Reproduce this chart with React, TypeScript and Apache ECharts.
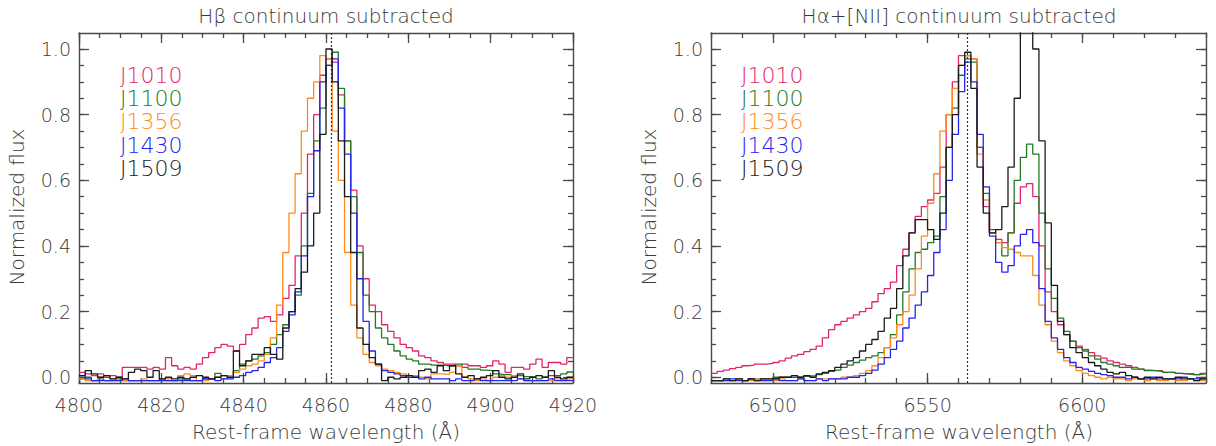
import React, { useEffect, useRef } from "react";
import * as echarts from "echarts";

const seriesNames = ["J1010", "J1100", "J1356", "J1430", "J1509"];
const seriesColors = ["#e6246e", "#237a23", "#ff8c1a", "#2424f0", "#1a1a1a"];

// H-beta panel: bins of 1.5 A starting at 4800
const hbStart = 4800;
const hbStep = 1.5;
const hbJ1010 = [0.015, 0.01, 0.005, 0.01, 0.0, 0.005, 0.0, 0.03, 0.03, 0.03,
  0.03, 0.025, 0.03, 0.025, 0.06, 0.035, 0.025, 0.03, 0.025, 0.04,
  0.06, 0.075, 0.09, 0.1, 0.095, 0.08, 0.1, 0.13, 0.15, 0.18,
  0.185, 0.17, 0.19, 0.24, 0.28, 0.37, 0.5, 0.68, 0.8, 0.92,
  0.97, 0.96, 0.86, 0.72, 0.57, 0.4, 0.3, 0.22, 0.2, 0.16,
  0.14, 0.12, 0.1, 0.09, 0.08, 0.065, 0.06, 0.05, 0.045, 0.04,
  0.04, 0.035, 0.04, 0.035, 0.035, 0.03, 0.035, 0.05, 0.04, 0.015,
  0.03, 0.03, 0.025, 0.04, 0.055, 0.03, 0.045, 0.045, 0.04, 0.06];
const hbJ1100 = [-0.005, 0.0, -0.01, -0.005, -0.01, -0.01, -0.005, -0.01, -0.01, -0.01,
  -0.01, -0.01, -0.01, -0.005, -0.01, -0.01, -0.005, -0.005, -0.01, -0.01,
  -0.005, -0.005, 0.012, 0.005, 0.0, 0.02, 0.04, 0.05, 0.055, 0.065,
  0.075, 0.1, 0.13, 0.16, 0.2, 0.25, 0.4, 0.56, 0.72, 0.82,
  0.95, 0.99, 0.88, 0.72, 0.55, 0.38, 0.25, 0.2, 0.15, 0.12,
  0.1, 0.08, 0.065, 0.055, 0.05, 0.04, 0.04, 0.037, 0.037, 0.035,
  0.035, 0.04, 0.03, 0.025, 0.025, 0.022, 0.02, 0.01, 0.008, 0.008,
  0.005, 0.005, 0.002, 0.0, -0.005, 0.0, 0.005, 0.006, 0.01, 0.016];
const hbJ1356 = [-0.005, -0.01, -0.01, 0.0, 0.005, -0.005, -0.01, -0.01, -0.01, -0.01,
  -0.005, -0.01, -0.01, -0.01, -0.005, -0.01, 0.005, 0.01, 0.005, -0.01,
  -0.01, -0.005, 0.0, -0.005, 0.005, 0.015, 0.025, 0.035, 0.04, 0.05,
  0.07, 0.12, 0.22, 0.38, 0.5, 0.62, 0.75, 0.85, 0.9, 0.98,
  0.97, 0.75, 0.6, 0.38, 0.22, 0.12, 0.07, 0.045, 0.035, 0.025,
  0.02, 0.015, 0.01, 0.005, 0.005, 0.0, -0.005, 0.01, 0.01, 0.008,
  0.015, 0.035, 0.0, -0.005, -0.01, -0.005, -0.01, 0.0, 0.005, 0.0,
  0.005, -0.005, -0.01, -0.01, -0.01, -0.01, -0.01, -0.005, -0.01, -0.005];
const hbJ1430 = [0.005, -0.005, -0.01, -0.01, -0.01, -0.01, -0.01, -0.005, -0.01, -0.01,
  -0.01, -0.01, -0.01, -0.01, -0.01, -0.01, -0.01, -0.01, -0.01, -0.01,
  -0.005, -0.005, -0.01, -0.005, -0.005, 0.0, 0.005, 0.015, 0.02, 0.03,
  0.045, 0.06, 0.09, 0.14, 0.19, 0.26, 0.37, 0.55, 0.69, 0.9,
  0.95, 0.97, 0.82, 0.68, 0.5, 0.3, 0.17, 0.08, 0.04, 0.02,
  0.015, 0.01, 0.005, 0.0, 0.0, -0.005, 0.0, -0.005, -0.005, -0.005,
  -0.01, -0.005, -0.01, -0.01, -0.005, -0.01, -0.01, -0.01, -0.01, -0.01,
  -0.01, -0.005, -0.01, -0.01, -0.01, -0.01, -0.005, -0.01, -0.01, -0.01];
const hbJ1509 = [0.005, 0.02, 0.01, 0.0, 0.005, -0.005, 0.0, -0.005, 0.015, 0.025,
  0.02, 0.0, 0.02, -0.005, 0.0, -0.005, 0.0, -0.005, 0.0, 0.005,
  0.0, -0.005, 0.0, 0.005, 0.0, 0.08, 0.035, 0.05, 0.07, 0.07,
  0.09, 0.07, 0.055, 0.15, 0.2, 0.27, 0.32, 0.4, 0.5, 0.74,
  1.0, 0.9, 0.72, 0.55, 0.38, 0.15, 0.1, 0.06, 0.04, -0.01,
  0.0, -0.005, 0.0, 0.005, 0.0, 0.02, 0.025, 0.015, 0.035, 0.02,
  0.035, 0.01, 0.0, 0.005, -0.005, 0.0, 0.005, 0.02, 0.0, -0.005,
  0.0, 0.01, -0.005, 0.0, 0.005, 0.0, 0.02, 0.0, -0.005, 0.0];

// H-alpha + [NII] panel: bins of 2 A starting at 6480
const haStart = 6480;
const haStep = 2;
const haJ1010 = [0.012, 0.018, 0.022, 0.026, 0.03, 0.035, 0.037, 0.04, 0.04, 0.042,
  0.045, 0.05, 0.058, 0.065, 0.07, 0.078, 0.085, 0.095, 0.12, 0.145,
  0.16, 0.17, 0.18, 0.19, 0.2, 0.21, 0.23, 0.255, 0.27, 0.29,
  0.34, 0.39, 0.44, 0.49, 0.52, 0.54, 0.56, 0.64, 0.8, 0.9,
  0.98, 0.98, 0.97, 0.7, 0.52, 0.44, 0.42, 0.41, 0.44, 0.53,
  0.58, 0.59, 0.55, 0.4, 0.26, 0.2, 0.16, 0.13, 0.11, 0.095,
  0.085, 0.075, 0.065, 0.058, 0.05, 0.045, 0.04, 0.035, 0.03, 0.025,
  0.022, 0.02, 0.02, 0.015, 0.015, 0.012, 0.01, 0.012, 0.008, 0.012];
const haJ1100 = [-0.01, -0.01, -0.005, -0.01, -0.005, -0.01, -0.005, -0.005, -0.005, -0.005,
  0.0, 0.0, 0.0, 0.0, 0.0, 0.003, 0.005, 0.008, 0.012, 0.018,
  0.022, 0.03, 0.037, 0.045, 0.052, 0.06, 0.065, 0.075, 0.09, 0.13,
  0.19, 0.26, 0.33, 0.38, 0.39, 0.41, 0.43, 0.55, 0.7, 0.82,
  0.92, 0.97, 0.96, 0.7, 0.56, 0.45, 0.41, 0.37, 0.44, 0.6,
  0.67, 0.71, 0.68, 0.5, 0.33, 0.24, 0.18, 0.14, 0.11, 0.09,
  0.08, 0.065, 0.055, 0.045, 0.04, 0.035, 0.03, 0.03, 0.025, 0.025,
  0.02, 0.02, 0.018, 0.015, 0.015, 0.012, 0.01, 0.008, 0.008, 0.01];
const haJ1356 = [-0.01, -0.01, -0.01, -0.01, -0.005, -0.01, -0.01, -0.005, -0.01, -0.005,
  -0.01, -0.005, -0.01, -0.01, -0.005, -0.01, -0.01, -0.005, -0.005, -0.005,
  -0.005, 0.0, 0.0, 0.005, 0.012, 0.02, 0.035, 0.06, 0.09, 0.12,
  0.16, 0.2, 0.25, 0.33, 0.43, 0.53, 0.62, 0.75, 0.8, 0.88,
  0.95, 0.98, 0.97, 0.68, 0.54, 0.44, 0.41, 0.395, 0.39, 0.38,
  0.37, 0.37, 0.31, 0.22, 0.16, 0.11, 0.075, 0.05, 0.035, 0.02,
  0.012, 0.005, 0.0, -0.005, 0.0, -0.005, -0.005, -0.01, -0.005, -0.005,
  -0.01, -0.005, -0.01, -0.01, -0.005, -0.01, -0.01, -0.005, -0.01, -0.01];
const haJ1430 = [-0.01, -0.01, -0.01, -0.005, -0.01, -0.01, -0.005, -0.01, -0.01, -0.01,
  -0.005, -0.01, -0.01, -0.01, -0.005, -0.01, -0.01, -0.005, -0.01, -0.005,
  -0.005, -0.005, 0.0, 0.0, 0.005, 0.012, 0.022, 0.04, 0.06, 0.085,
  0.11, 0.15, 0.18, 0.22, 0.26, 0.31, 0.38, 0.45, 0.6, 0.74,
  0.87, 0.96, 0.9, 0.74, 0.58, 0.43, 0.35, 0.32, 0.34, 0.4,
  0.435, 0.45, 0.41, 0.27, 0.17, 0.12, 0.085, 0.06, 0.045, 0.03,
  0.025, 0.018, 0.012, 0.008, 0.005, 0.0, 0.0, -0.005, 0.0, -0.005,
  -0.005, 0.0, -0.005, -0.005, -0.005, -0.005, 0.0, -0.005, -0.005, -0.005];
const haJ1509 = [-0.01, -0.01, -0.005, -0.01, -0.005, -0.01, -0.005, -0.01, -0.005, -0.005,
  -0.005, 0.0, 0.0, 0.005, 0.0, 0.005, 0.0, 0.01, 0.015, 0.02,
  0.03, 0.04, 0.05, 0.06, 0.08, 0.1, 0.115, 0.14, 0.18, 0.21,
  0.27, 0.37, 0.44, 0.48, 0.48, 0.45, 0.42, 0.5, 0.7, 0.8,
  0.95, 0.99, 0.88, 0.64, 0.5, 0.44, 0.45, 0.52, 0.64, 0.85,
  1.08, 1.15, 1.0, 0.72, 0.47, 0.28, 0.17, 0.13, 0.09, 0.075,
  0.06, 0.045, 0.035, 0.025, 0.015, 0.01, 0.015, 0.005, 0.0, -0.005,
  0.0, -0.005, 0.0, -0.005, -0.005, 0.0, -0.005, -0.005, -0.01, -0.005];

const hbSeries = [hbJ1010, hbJ1100, hbJ1356, hbJ1430, hbJ1509];
const haSeries = [haJ1010, haJ1100, haJ1356, haJ1430, haJ1509];

const hbRange = [4800, 4920];
const haRange = [6480, 6640];
const yRange = [-0.0175, 1.0487];
const hbXTicks = [4800, 4820, 4840, 4860, 4880, 4900, 4920];
const hbXMinorStep = 5;
const haXTicks = [6500, 6550, 6600];
const haXMinorStep = 10;
const yTicks = [0.0, 0.2, 0.4, 0.6, 0.8, 1.0];
const yMinorStep = 0.05;

const hbRestLine = 4861.33;
const haRestLine = 6562.8;

const hbTitle = "H\u03b2 continuum subtracted";
const haTitle = "H\u03b1+[NII] continuum subtracted";
const xName = "Rest-frame wavelength (\u00c5)";
const yName = "Normalized flux";

const FONT = "DejaVu Sans";
const WEIGHT = 200;
const TXT = "#3a3a3a";
const FRAME = "#4a4a4a";

function minorValues(min: number, max: number, step: number) {
  const out: number[] = [];
  const start = Math.ceil(min / step - 1e-9) * step;
  for (let v = start; v <= max + 1e-9; v += step) out.push(Math.round(v * 1000) / 1000);
  return out;
}

function stepData(start: number, step: number, vals: number[]) {
  const d: number[][] = vals.map((v, i) => [start + i * step, v]);
  d.push([start + vals.length * step, vals[vals.length - 1]]);
  return d;
}

function makeAxes(dim: "x" | "y", grid: number, range: number[], major: number[], minor: number[], fmt: (v: number) => string) {
  const pos = dim === "x" ? ["bottom", "top"] : ["left", "right"];
  const base = {
    type: "value",
    gridIndex: grid,
    min: range[0],
    max: range[1],
    splitLine: { show: false },
    axisPointer: { show: false },
  };
  const tickStyle = { color: FRAME, width: 1.3 };
  const out: any[] = [];
  pos.forEach((p, k) => {
    out.push({
      ...base,
      position: p,
      axisLine: { show: true, onZero: false, lineStyle: { color: FRAME, width: 1.4 } },
      axisTick: { show: true, inside: true, length: 10, customValues: major, lineStyle: tickStyle },
      axisLabel: k === 0
        ? { show: true, customValues: major, margin: dim === "x" ? 12 : 8, fontSize: 19, fontWeight: WEIGHT, fontFamily: FONT, color: TXT, formatter: fmt }
        : { show: false },
    });
    out.push({
      ...base,
      position: p,
      axisLine: { show: false, onZero: false },
      axisTick: { show: true, inside: true, length: 5, customValues: minor, lineStyle: tickStyle },
      axisLabel: { show: false },
    });
  });
  return out;
}

function panelSeries(data: number[][], start: number, step: number, axisIdx: number, restLine: number) {
  return data.map((vals, i) => ({
    type: "line",
    name: seriesNames[i],
    xAxisIndex: axisIdx,
    yAxisIndex: axisIdx,
    data: stepData(start, step, vals),
    step: "end",
    showSymbol: false,
    symbol: "none",
    clip: true,
    lineStyle: { color: seriesColors[i], width: 1.3 },
    itemStyle: { color: seriesColors[i] },
    z: 2 + i,
    markLine: i === data.length - 1
      ? {
          silent: true,
          symbol: "none",
          label: { show: false },
          lineStyle: { color: "#333", width: 1.2, type: [2, 2] },
          data: [{ xAxis: restLine }],
        }
      : undefined,
  }));
}

function legendTexts(x: number) {
  const ys = [75, 98.3, 121.7, 145, 168.3];
  return seriesNames.map((n, i) => ({
    type: "text",
    x,
    y: ys[i],
    style: {
      text: n,
      fill: seriesColors[i],
      font: `${WEIGHT} 22px "${FONT}"`,
      align: "left",
      verticalAlign: "middle",
      textAlign: "left",
      textVerticalAlign: "middle",
    },
  }));
}

function label(text: string, x: number, y: number, size: number, rotation = 0) {
  return {
    type: "text",
    x,
    y,
    rotation,
    style: {
      text,
      fill: TXT,
      font: `${WEIGHT} ${size}px "${FONT}"`,
      align: "center",
      verticalAlign: "middle",
      textAlign: "center",
      textVerticalAlign: "middle",
    },
  };
}

export default function App() {
  const ref = useRef<HTMLDivElement>(null);
  useEffect(() => {
    if (!ref.current) return;
    const chart = echarts.init(ref.current, undefined, { renderer: "svg" });
    const yFmt = (v: number) => v.toFixed(1);
    const xFmt = (v: number) => String(Math.round(v));
    const yMinor = minorValues(0, yRange[1], yMinorStep);
    const option: any = {
      animation: false,
      backgroundColor: "#ffffff",
      grid: [
        { left: 79, top: 33, width: 494, height: 350 },
        { left: 711, top: 33, width: 495, height: 350 },
      ],
      xAxis: [
        ...makeAxes("x", 0, hbRange, hbXTicks, minorValues(hbRange[0], hbRange[1], hbXMinorStep), xFmt),
        ...makeAxes("x", 1, haRange, haXTicks, minorValues(haRange[0], haRange[1], haXMinorStep), xFmt),
      ],
      yAxis: [
        ...makeAxes("y", 0, yRange, yTicks, yMinor, yFmt),
        ...makeAxes("y", 1, yRange, yTicks, yMinor, yFmt),
      ],
      series: [
        ...panelSeries(hbSeries, hbStart, hbStep, 0, hbRestLine),
        ...panelSeries(haSeries, haStart, haStep, 4, haRestLine),
      ],
      graphic: [
        label(hbTitle, 326, 16, 20),
        label(haTitle, 959, 16, 20),
        label(xName, 326, 432, 20),
        label(xName, 959, 432, 20),
        label(yName, 17, 207, 20, Math.PI / 2),
        label(yName, 649, 207, 20, Math.PI / 2),
        ...legendTexts(120),
        ...legendTexts(741),
      ],
    };
    chart.setOption(option);
    return () => chart.dispose();
  }, []);
  return (
    <div
      ref={ref}
      style={{ position: "absolute", left: 0, top: 0, width: 1216, height: 446, background: "#fff" }}
    />
  );
}
